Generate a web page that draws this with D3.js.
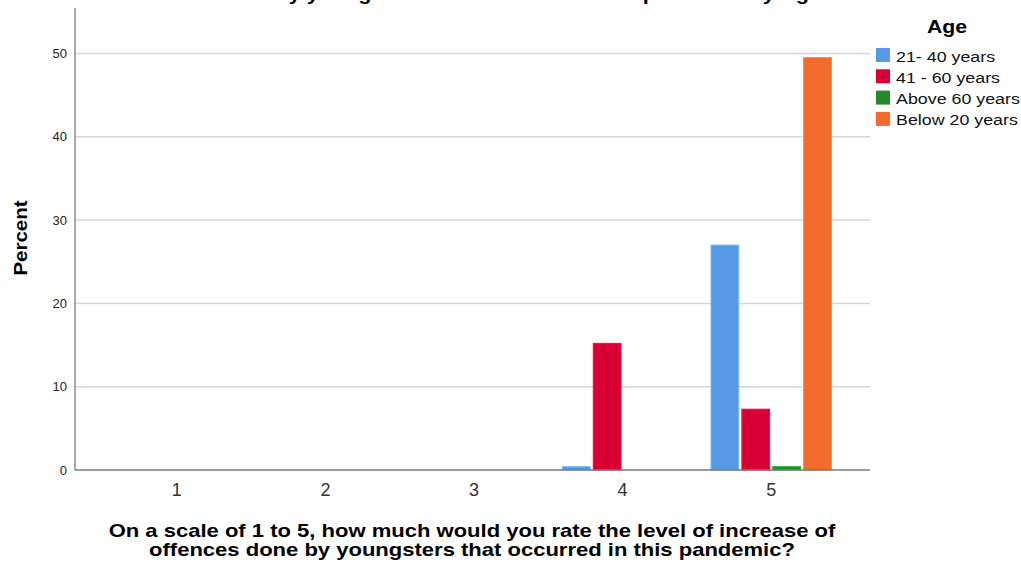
<!DOCTYPE html>
<html><head><meta charset="utf-8">
<script src="https://cdn.jsdelivr.net/npm/d3@7"></script>
<style>
html,body{margin:0;padding:0;background:#fff;}
svg{display:block;font-family:"Liberation Sans",Arial,sans-serif;}
</style></head>
<body>
<svg id="chart" width="1021" height="563"></svg>
<script>
const categories = ["1","2","3","4","5"];
const seriesNames = ["21- 40 years","41 - 60 years","Above 60 years","Below 20 years"];
const s21to40 = [0,0,0,0.4,27.0];
const s41to60 = [0,0,0,15.2,7.3];
const sAbove60 = [0,0,0,0,0.4];
const sBelow20 = [0,0,0,0,49.5];
const seriesValues = [s21to40, s41to60, sAbove60, sBelow20];
const colors = ["#5899e3","#d70034","#248a2c","#f26b2b"];
const yTicks = [0,10,20,30,40,50];
const titleLines = ["On a scale of 1 to 5, how much would you rate the level of increase of","offences done by youngsters that occurred in this pandemic by Age"];
const xTitleLines = ["On a scale of 1 to 5, how much would you rate the level of increase of","offences done by youngsters that occurred in this pandemic?"];

const svg = d3.select("#chart");
const mLeft = 75, mRight = 870, mTop = 8, mBottom = 470;

function stretch(sel, f) {
  sel.each(function() {
    const w = this.getComputedTextLength();
    d3.select(this).attr("textLength", w * f).attr("lengthAdjust", "spacingAndGlyphs");
  });
}

const x = d3.scaleBand().domain(categories).range([102.5, 845.5]).paddingInner(0).paddingOuter(0);
const xInner = d3.scaleBand().domain(seriesNames).range([0, x.bandwidth()*0.81]).paddingInner(0.1);
const y = d3.scaleLinear().domain([0, 55.46]).range([mBottom, mTop]);

// top title (cut off by the top edge, as in the reference)
const tt = svg.append("g").selectAll("text").data(titleLines).join("text")
  .attr("x", 472).attr("y", (d,i)=> -21 + i*21).attr("text-anchor","middle")
  .attr("font-size", 18).attr("font-weight","bold").attr("fill","#000")
  .text(d=>d);
stretch(tt, 1.2);

// grid lines
svg.append("g").selectAll("line").data(yTicks.filter(d=>d>0)).join("line")
  .attr("x1", mLeft).attr("x2", mRight)
  .attr("y1", d=>y(d)).attr("y2", d=>y(d))
  .attr("stroke","#d6d6d6").attr("stroke-width",1.5);

// y axis
const yAxis = d3.axisLeft(y).tickValues(yTicks).tickSize(0).tickPadding(8);
const gy = svg.append("g").attr("transform",`translate(${mLeft},0)`).call(yAxis);
gy.select(".domain").remove();
gy.selectAll("text").attr("font-size",13).attr("fill","#222").attr("font-family","Liberation Sans, Arial, sans-serif");
svg.append("line").attr("x1",mLeft).attr("x2",mLeft).attr("y1",mTop).attr("y2",mBottom)
  .attr("stroke","#8c8c8c").attr("stroke-width",1.5);

// bars
const groups = svg.append("g").selectAll("g").data(categories).join("g")
  .attr("transform", c => `translate(${x(c) + (x.bandwidth()-x.bandwidth()*0.81)/2},0)`);
groups.selectAll("rect").data((c,i) => seriesNames.map((s,j)=>({s, j, v: seriesValues[j][i]})).filter(d=>d.v>0))
  .join("rect")
  .attr("x", d => xInner(d.s))
  .attr("width", xInner.bandwidth())
  .attr("y", d => y(d.v))
  .attr("height", d => mBottom - y(d.v))
  .attr("fill", d => colors[d.j])
  .attr("stroke", d => d3.color(colors[d.j]).brighter(0.6))
  .attr("stroke-width", 1);

// x axis
const xAxis = d3.axisBottom(x).tickSize(0).tickPadding(13);
const gx = svg.append("g").attr("transform",`translate(0,${mBottom})`).call(xAxis);
gx.select(".domain").remove();
gx.selectAll("text").attr("font-size",18).attr("fill","#333").attr("font-family","Liberation Sans, Arial, sans-serif");
svg.append("line").attr("x1",mLeft).attr("x2",mRight).attr("y1",mBottom).attr("y2",mBottom)
  .attr("stroke","#7a7a7a").attr("stroke-width",1.5);

// x title
const xt = svg.append("g").selectAll("text").data(xTitleLines).join("text")
  .attr("x", 472).attr("y",(d,i)=>537+i*19).attr("text-anchor","middle")
  .attr("font-size",18.5).attr("font-weight","bold").attr("fill","#000").text(d=>d);
stretch(xt, 1.19);

// y title
const yt = svg.append("text").attr("transform","translate(27,238) rotate(-90)").attr("text-anchor","middle")
  .attr("font-size",19).attr("font-weight","bold").attr("fill","#000").text("Percent");
stretch(yt, 1.08);

// legend
const at = svg.append("text").attr("x",947).attr("y",33).attr("text-anchor","middle")
  .attr("font-size",19).attr("font-weight","bold").attr("fill","#000").text("Age");
stretch(at, 1.12);
const lg = svg.append("g").selectAll("g").data(seriesNames).join("g")
  .attr("transform",(d,i)=>`translate(876,${48 + i*21.3})`);
lg.append("rect").attr("width",14).attr("height",14).attr("fill",(d,i)=>colors[i]);
const lt = lg.append("text").attr("x",20).attr("y",13.5).attr("font-size",15.5).attr("fill","#111").text(d=>d);
stretch(lt, 1.15);
</script>
</body></html>
